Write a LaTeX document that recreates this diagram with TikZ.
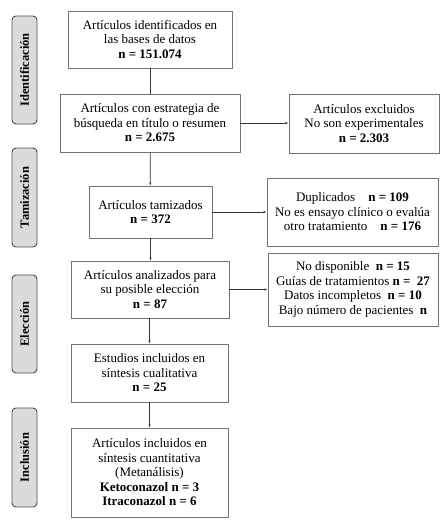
\documentclass[tikz,border=0pt]{standalone}
\usepackage{fontspec}
\setmainfont{Liberation Serif}
\usetikzlibrary{arrows.meta}
\begin{document}
\begin{tikzpicture}[x=1pt,y=-1pt,
  box/.style={draw=black!55,line width=0.9pt,align=center,inner sep=0pt,
    font=\fontsize{13}{14.5}\selectfont},
  phase/.style={draw=black!70,fill=black!14,line width=0.9pt,rounded corners=4pt,
    inner sep=0pt,minimum width=25pt,font=\fontsize{12.5}{13}\selectfont\bfseries,rotate=90},
  conn/.style={draw=black!80,line width=0.7pt},
  arr/.style={conn,-{Latex[length=3pt,width=2.4pt]}}]
\useasboundingbox (0,0) rectangle (441,522);
% phases
\node[phase,minimum height=25pt,minimum width=108pt] (p1) at (24.5,70) {Identificación};
\node[phase,minimum height=25pt,minimum width=99pt] (p2) at (24.5,197.5) {Tamización};
\node[phase,minimum height=25pt,minimum width=98pt] (p3) at (24.5,324) {Elección};
\node[phase,minimum height=25pt,minimum width=99pt] (p4) at (24.5,457.5) {Inclusión};
% main boxes
\node[box,minimum width=164pt,minimum height=57pt] (b1) at (150,39.5)
  {Artículos identificados en\\las bases de datos\\\textbf{n = 151.074}};
\node[box,minimum width=180pt,minimum height=58pt] (b2) at (150,123)
  {Artículos con estrategia de\\búsqueda en título o resumen\\\textbf{n = 2.675}};
\node[box,minimum width=150pt,minimum height=59pt] (e1) at (364,123.5)
  {Artículos excluidos\\No son experimentales\\\textbf{n = 2.303}};
\node[box,minimum width=123pt,minimum height=52pt] (b3) at (150.5,212)
  {Artículos tamizados\\\textbf{n = 372}};
\node[box,minimum width=171pt,minimum height=68pt] (e2) at (352.5,212)
  {Duplicados\quad\textbf{n = 109}\\No es ensayo clínico o evalúa\\otro tratamiento\quad\textbf{n = 176}};
\node[box,minimum width=158pt,minimum height=57pt] (b4) at (150,289.5)
  {Artículos analizados para\\su posible elección\\\textbf{n = 87}};
\node[box,minimum width=170pt,minimum height=73pt] (e3) at (353,289.5)
  {No disponible\enspace\textbf{n = 15}\\Guías de tratamientos \textbf{n =\enspace27}\\Datos incompletos\enspace\textbf{n = 10}\\Bajo número de pacientes\enspace\textbf{n}};
\node[box,minimum width=157pt,minimum height=58pt] (b5) at (149.5,373)
  {Estudios incluidos en\\síntesis cualitativa\\\textbf{n = 25}};
\node[box,minimum width=157pt,minimum height=89pt] (b6) at (149.5,472.5)
  {Artículos incluidos en\\síntesis cuantitativa\\(Metanálisis)\\\textbf{Ketoconazol n = 3}\\\textbf{Itraconazol n = 6}};
% connectors
\draw[conn] (b1) -- (b2);
\draw[arr] (b2) -- (b3);
\draw[arr] (b3) -- (b3 |- b4.north);
\draw[arr] (b4.south -| b5) -- (b5);
\draw[arr] (b5) -- (b6);
\draw[arr] (b2.east) -- (e1.west |- b2.east);
\draw[arr] (b3.east) -- (e2.west |- b3.east);
\draw[arr] (b4.east) -- (e3.west |- b4.east);
\end{tikzpicture}
\end{document}
